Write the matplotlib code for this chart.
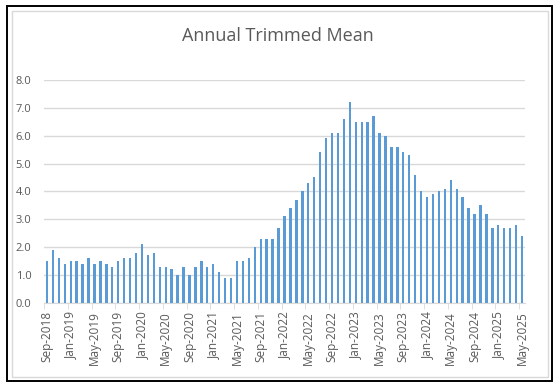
import matplotlib.pyplot as plt
import numpy as np
import pandas as pd
from matplotlib.patches import Rectangle

# monthly, Sep-2018 .. May-2025
months = pd.date_range('2018-09-01', '2025-05-01', freq='MS')
values = [
    1.5, 1.9, 1.6, 1.4, 1.5, 1.5, 1.4, 1.6, 1.4, 1.5, 1.4, 1.3,
    1.5, 1.6, 1.6, 1.8, 2.1, 1.7, 1.8, 1.3, 1.3, 1.2, 1.0, 1.3,
    1.0, 1.3, 1.5, 1.3, 1.4, 1.1, 0.9, 0.9, 1.5, 1.5, 1.6, 2.0,
    2.3, 2.3, 2.3, 2.7, 3.1, 3.4, 3.7, 4.0, 4.3, 4.5, 5.4, 5.9,
    6.1, 6.1, 6.6, 7.2, 6.5, 6.5, 6.5, 6.7, 6.1, 6.0, 5.6, 5.6,
    5.4, 5.3, 4.6, 4.0, 3.8, 3.9, 4.0, 4.1, 4.4, 4.1, 3.8, 3.4,
    3.2, 3.5, 3.2, 2.7, 2.8, 2.7, 2.7, 2.8, 2.4,
]
labels = [m.strftime('%b-%Y') for m in months]

grey = '#595959'
plt.rcParams['font.family'] = ['Open Sans', 'DejaVu Sans']

fig = plt.figure(figsize=(5.56, 3.91), dpi=100)
ax = fig.add_axes([44 / 556, 1 - 302.7 / 391, (525 - 44) / 556, (302.7 - 80) / 391])

x = np.arange(len(values))
ax.bar(x, values, width=0.4, color='#5B9BD5', zorder=3)

ax.set_ylim(0, 8)
ax.set_yticks(np.arange(0, 8.1, 1.0))
ax.set_yticklabels([f'{v:.1f}' for v in np.arange(0, 8.1, 1.0)])
ax.set_xlim(-0.5, len(values) - 0.5)
ax.set_xticks(x[::4])
ax.set_xticklabels(labels[::4], rotation=90)
ax.set_xticks(np.arange(-0.5, len(values), 4), minor=True)

ax.grid(axis='y', color='#D9D9D9', linewidth=1, zorder=0)
for s in ['top', 'right', 'left']:
    ax.spines[s].set_visible(False)
ax.spines['bottom'].set_color('#D9D9D9')
ax.tick_params(axis='y', length=0, labelsize=8, labelcolor=grey, pad=9)
ax.tick_params(axis='x', which='major', length=0, labelsize=8.5, labelcolor=grey, pad=6)
ax.tick_params(axis='x', which='minor', length=4, color='#D9D9D9')

fig.text(0.5, 1 - 36 / 391, 'Annual Trimmed Mean', ha='center', va='center',
         fontsize=13, color=grey)

# chart frame: black outer box, light inner box
fig.patches.append(Rectangle((7 / 556, 1 - 381 / 391), (552 - 7) / 556, (381 - 6) / 391,
                             transform=fig.transFigure, fill=False, edgecolor='black', linewidth=1.4))
fig.patches.append(Rectangle((12 / 556, 1 - 377 / 391), (548 - 12) / 556, (377 - 11) / 391,
                             transform=fig.transFigure, fill=False, edgecolor='#D9D9D9', linewidth=1))

fig.savefig('out.png', dpi=100)
